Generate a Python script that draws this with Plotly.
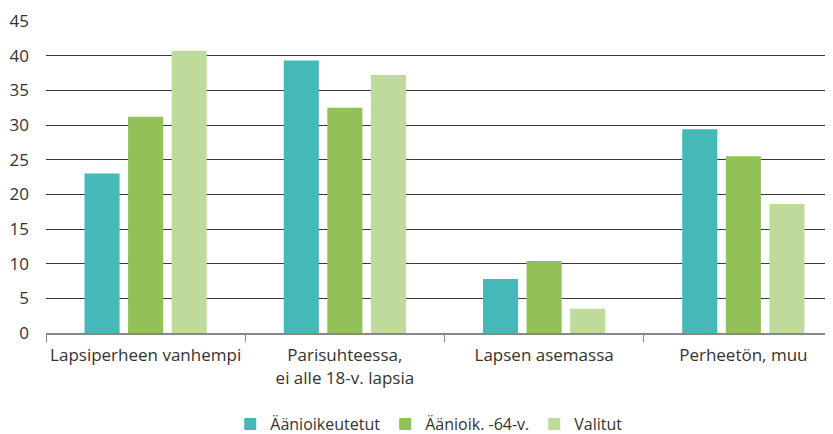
import plotly.graph_objects as go

categories = ["Lapsiperheen vanhempi", "Parisuhteessa,<br>ei alle 18-v. lapsia", "Lapsen asemassa", "Perheetön, muu"]
series_names = ["Äänioikeutetut", "Äänioik. -64-v.", "Valitut"]
aanioikeutetut = [23.0, 39.3, 7.8, 29.4]
aanioik_64 = [31.2, 32.5, 10.4, 25.5]
valitut = [40.7, 37.2, 3.5, 18.6]
colors = ["#45b8b8", "#92c157", "#bfdb9c"]
y_ticks = [0, 5, 10, 15, 20, 25, 30, 35, 40, 45]

fig = go.Figure()
for name, vals, col in zip(series_names, [aanioikeutetut, aanioik_64, valitut], colors):
    fig.add_trace(go.Bar(x=categories, y=vals, name=name, marker=dict(color=col, line=dict(width=0))))

font_family = "Open Sans"
# page body has an 8px margin, so the figure is sized/offset to compensate
fig.update_layout(
    width=825, height=426,
    margin=dict(l=38, r=0, t=13, b=101, autoexpand=False),
    paper_bgcolor="white", plot_bgcolor="white",
    barmode="group", bargap=0.344, bargroupgap=0.195,
    font=dict(family=font_family, size=17, color="#333333"),
    legend=dict(orientation="h", x=0.487, xanchor="center", y=-0.292, yanchor="middle",
                font=dict(size=16, color="#333333"), itemwidth=30, traceorder="normal"),
    showlegend=True,
)
fig.update_xaxes(
    range=[-0.5, 3.45], showline=True, linecolor="#888888", linewidth=2,
    ticks="outside", tickson="boundaries", ticklen=7, tickcolor="#888888", tickwidth=1,
    showgrid=False, tickfont=dict(size=17, color="#333333"), layer="above traces",
    automargin=False, tickangle=0, ticklabelstandoff=6,
)
fig.update_yaxes(
    range=[0, 45], tickvals=y_ticks, showgrid=True, gridcolor="#3a3a3a", gridwidth=1,
    zeroline=False, showline=False, ticks="", tickfont=dict(size=17, color="#333333"),
    ticklabelstandoff=16, automargin=False,
)
fig.write_html("out.html")
